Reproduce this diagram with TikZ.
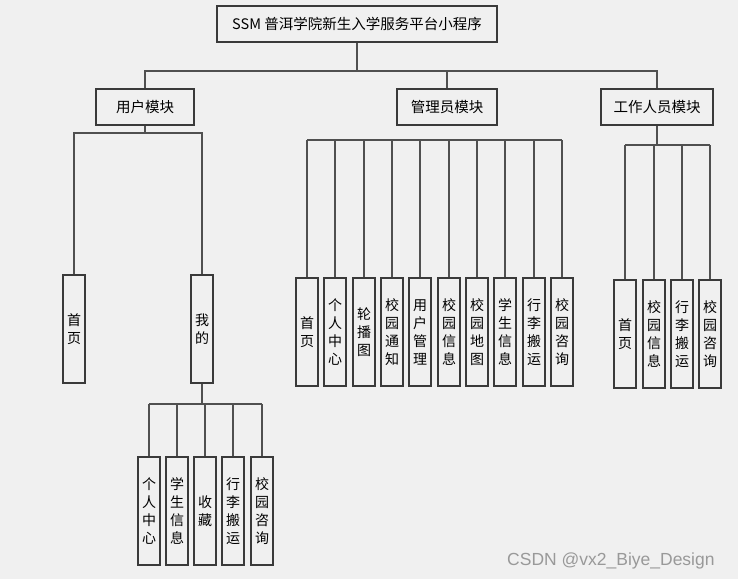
\documentclass[tikz,border=0pt]{standalone}
\usepackage{fontspec}
\setmainfont{Liberation Sans}
\newfontfamily\cjk{Noto Sans CJK SC}
\definecolor{bg}{HTML}{F0F0F0}
\definecolor{ln}{HTML}{505050}
\definecolor{bd}{HTML}{3A3A3A}
\begin{document}
\begin{tikzpicture}[x=1pt,y=-1pt,
  box/.style={draw=bd, line width=1.8pt, fill=bg, inner sep=0pt,
    font=\cjk\fontsize{14.5}{16}\selectfont},
  vbox/.style={box, minimum width=22pt, minimum height=108pt, align=center,
    font=\cjk\fontsize{14}{18}\selectfont},
  conn/.style={draw=ln, line width=1.8pt}]
\fill[bg] (0,0) rectangle (738,579);
\useasboundingbox (0,0) rectangle (738,579);

\begin{scope}[shift={(-0.5,-0.5)}]
% top level
\node[box, minimum width=280pt, minimum height=36pt] (root) at (357.5,24.5) {SSM 普洱学院新生入学服务平台小程序};
\node[box, minimum width=98pt, minimum height=36pt] (um) at (145.5,107.5) {用户模块};
\node[box, minimum width=100pt, minimum height=36pt] (am) at (447.5,107.5) {管理员模块};
\node[box, minimum width=112pt, minimum height=36pt] (sm) at (657.5,107.5) {工作人员模块};

\coordinate (j0) at (357.5,71.5);
\draw[conn] (root) -- (j0);
\draw[conn] (um.north) |- (j0) -| (sm.north);
\draw[conn] (am.north) -- (am.north |- j0);

% user module
\node[vbox] (uhome) at (74.5,329.5) {首\\页};
\node[vbox] (umine) at (202.5,329.5) {我\\的};
\coordinate (u1) at (145.5,133.5);
\draw[conn] (um.south) -- (u1);
\draw[conn] (uhome.north) |- (u1) -| (umine.north);

\node[vbox] (m1) at (149.5,511.5) {个\\人\\中\\心};
\node[vbox] (m2) at (177.5,511.5) {学\\生\\信\\息};
\node[vbox] (m3) at (205.5,511.5) {收\\藏};
\node[vbox] (m4) at (233.5,511.5) {行\\李\\搬\\运};
\node[vbox] (m5) at (262.5,511.5) {校\\园\\咨\\询};
\coordinate (mj) at (202.5,404.5);
\draw[conn] (umine.south) -- (mj);
\draw[conn] (m1.north |- mj) -- (m5.north |- mj);
\foreach \n in {m1,m2,m3,m4,m5} \draw[conn] (\n.north) -- (\n.north |- mj);

% admin module
\node[vbox] (a1) at (307.5,332.5) {首\\页};
\node[vbox] (a2) at (335.5,332.5) {个\\人\\中\\心};
\node[vbox] (a3) at (364.5,332.5) {轮\\播\\图};
\node[vbox] (a4) at (392.5,332.5) {校\\园\\通\\知};
\node[vbox] (a5) at (420.5,332.5) {用\\户\\管\\理};
\node[vbox] (a6) at (449.5,332.5) {校\\园\\信\\息};
\node[vbox] (a7) at (477.5,332.5) {校\\园\\地\\图};
\node[vbox] (a8) at (505.5,332.5) {学\\生\\信\\息};
\node[vbox] (a9) at (534.5,332.5) {行\\李\\搬\\运};
\node[vbox] (a10) at (562.5,332.5) {校\\园\\咨\\询};
\coordinate (aj) at (447.5,140.5);
\draw[conn] (a1.north |- aj) -- (a10.north |- aj);
\foreach \n in {a1,a2,a3,a4,a5,a6,a7,a8,a9,a10} \draw[conn] (\n.north) -- (\n.north |- aj);

% staff module
\node[vbox] (s1) at (625.5,334.5) {首\\页};
\node[vbox] (s2) at (654.5,334.5) {校\\园\\信\\息};
\node[vbox] (s3) at (682.5,334.5) {行\\李\\搬\\运};
\node[vbox] (s4) at (710.5,334.5) {校\\园\\咨\\询};
\coordinate (sj) at (657.5,145.5);
\draw[conn] (sm.south) -- (sj);
\draw[conn] (s1.north |- sj) -- (s4.north |- sj);
\foreach \n in {s1,s2,s3,s4} \draw[conn] (\n.north) -- (\n.north |- sj);
\end{scope}

% watermark
\node[anchor=base west, inner sep=0pt, text=black!40, font=\fontsize{17.5}{18}\selectfont] (wm) at (507,565) {CSDN @vx2\_Biye\_Design};
\end{tikzpicture}
\end{document}
